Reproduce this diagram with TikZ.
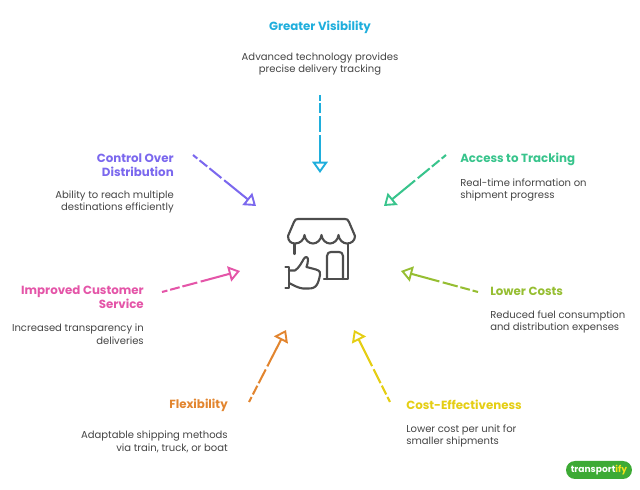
\documentclass[tikz,border=0pt]{standalone}
\usepackage{fontspec}
\setmainfont{Poppins}
\usepackage{xcolor}
\usetikzlibrary{arrows.meta}
\definecolor{cblue}{HTML}{1FAEDC}
\definecolor{cgreen}{HTML}{38C48C}
\definecolor{colive}{HTML}{96BE32}
\definecolor{cyellow}{HTML}{E5CE14}
\definecolor{corange}{HTML}{E2852F}
\definecolor{cpink}{HTML}{E455A8}
\definecolor{cpurple}{HTML}{7B68EE}
\definecolor{ctext}{HTML}{444444}
\definecolor{cicon}{HTML}{4D4D4D}
\definecolor{clogo}{HTML}{3DAA35}
\definecolor{clogoy}{HTML}{F2E21B}

\begin{document}
\begin{tikzpicture}[x=0.025cm, y=-0.025cm,
  title/.style = {font=\fontsize{8.4}{10}\selectfont\bfseries, inner sep=0pt, align=#1},
  info/.style = {font=\fontsize{7.13}{9.1}\selectfont, text=ctext, inner sep=0pt, align=#1},
  link/.style = {line width=1.45pt, dash pattern=on 4pt off 2pt on 7pt off 2pt on 11pt off 2.5pt on 90pt off 2pt, -{Triangle[open, length=8pt, width=11pt, line width=1.35pt]}},
  icon/.style = {draw=cicon, line width=1.5pt, line cap=round, line join=round}]
\useasboundingbox (0,0) rectangle (640,490);

% titles and texts
\node[title=center, text=cblue, anchor=center] (visTitle) at (320,27) {Greater Visibility};
\node[info=center, anchor=center] (visText) at (320,64) {Advanced technology provides\\precise delivery tracking};
\node[title=left, text=cgreen, anchor=west] (trackTitle) at (460,159) {Access to Tracking};
\node[info=left, anchor=west] (trackText) at (460,190) {Real-time information on\\shipment progress};
\node[title=left, text=colive, anchor=west] (costTitle) at (490,291) {Lower Costs};
\node[info=left, anchor=west] (costText) at (490,322) {Reduced fuel consumption\\and distribution expenses};
\node[title=left, text=cyellow, anchor=west] (effTitle) at (406,405) {Cost-Effectiveness};
\node[info=left, anchor=west] (effText) at (406,436) {Lower cost per unit for\\smaller shipments};
\node[title=right, text=corange, anchor=east] (flexTitle) at (228,405) {Flexibility};
\node[info=right, anchor=east] (flexText) at (228,442) {Adaptable shipping methods\\via train, truck, or boat};
\node[title=right, text=cpink, anchor=east] (serviceTitle) at (144,297) {Improved Customer\\Service};
\node[info=right, anchor=east] (serviceText) at (144,334) {Increased transparency in\\deliveries};
\node[title=right, text=cpurple, anchor=east] (controlTitle) at (174,165) {Control Over\\Distribution};
\node[info=right, anchor=east] (controlText) at (174,202) {Ability to reach multiple\\destinations efficiently};

% arrow ends
\coordinate (visA) at (320,95);
\coordinate (visB) at (320,173);
\coordinate (trackA) at (446,155);
\coordinate (trackB) at (384,206);
\coordinate (costA) at (478,292);
\coordinate (costB) at (401,271);
\coordinate (effA) at (390,402);
\coordinate (effB) at (354,330);
\coordinate (flexA) at (249,402);
\coordinate (flexB) at (286,330);
\coordinate (serviceA) at (162,292);
\coordinate (serviceB) at (240,271);
\coordinate (controlA) at (193,155);
\coordinate (controlB) at (256,206);

\path (visA) edge [link, cblue] (visB);
\path (trackA) edge [link, cgreen] (trackB);
\path (costA) edge [link, colive] (costB);
\path (effA) edge [link, cyellow] (effB);
\path (flexA) edge [link, corange] (flexB);
\path (serviceA) edge [link, cpink] (serviceB);
\path (controlA) edge [link, cpurple] (controlB);

% store icon
\draw[icon] (288,236) -- (294,222) .. controls (295,219.5) and (296,219) .. (298,219) -- (345,219) .. controls (347,219) and (348,219.5) .. (349,222) -- (355,236);
\draw[icon] (288,236) .. controls (288,241) and (291,243.5) .. (295,243.5) .. controls (300,243.5) and (304,240) .. (304.5,235)
  .. controls (305,240) and (309,243.5) .. (313,243.5) .. controls (317,243.5) and (321,240) .. (321.5,235)
  .. controls (322,240) and (326,243.5) .. (330,243.5) .. controls (334,243.5) and (338,240) .. (338.5,235)
  .. controls (339,240) and (343,243.5) .. (347,243.5) .. controls (351,243.5) and (355,241) .. (355,236);
\draw[icon] (294.5,244) -- (294.5,254);
\draw[icon] (348,244) -- (348,279) -- (324,279);
\draw[icon] (327,279) -- (327,256) .. controls (327,253) and (329,252) .. (331,252) -- (339,252) .. controls (341,252) and (343,253) .. (343,256) -- (343,279);
\draw[icon] (285.5,267) -- (289,267) -- (289,288) -- (285.5,288);
\draw[icon] (289,270.5) -- (295,270.5) .. controls (299,268) and (302,262) .. (304,258.5) .. controls (306,256) and (308,257) .. (308,260) .. controls (308,263) and (307,265) .. (306.5,267)
  -- (316,269.5) .. controls (320,271) and (320.5,272) .. (320,275) .. controls (319,280) and (318,284) .. (315.5,286.5) .. controls (314,288) and (312,288.5) .. (308,288.5) -- (303,288.5) .. controls (298,288) and (293,285) .. (289,283);

% logo
\node[fill=clogo, rounded corners=6.4pt, minimum width=46.9pt, minimum height=12.8pt, inner sep=0pt, font=\fontsize{6.5}{8}\selectfont\bfseries, text=white] (logo) at (599,470) {transport\textcolor{clogoy}{ify}};
\end{tikzpicture}
\end{document}
